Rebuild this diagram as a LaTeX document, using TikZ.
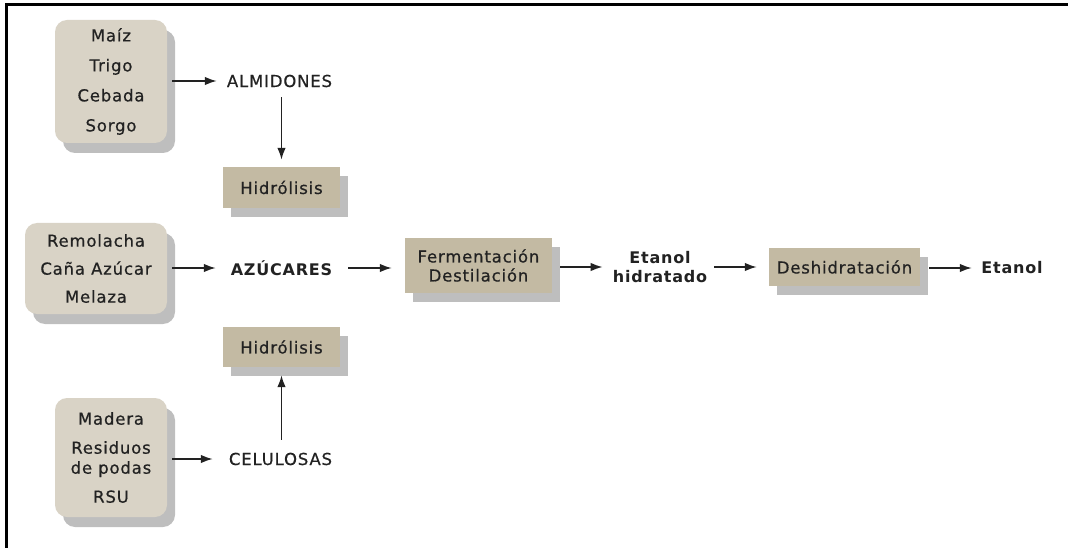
\documentclass[tikz,border=0pt]{standalone}
\usepackage{fontspec}
\setmainfont{DejaVu Sans}[LetterSpace=5,UprightFeatures={FakeBold=0.6}]
\usetikzlibrary{arrows.meta,shadows}
\definecolor{srcfill}{HTML}{D9D3C6}
\definecolor{procfill}{HTML}{C3BAA3}
\definecolor{shade}{HTML}{BEBEBE}
\definecolor{ink}{HTML}{222222}
\begin{document}
\begin{tikzpicture}[x=1pt,y=-1pt,
  every node/.style={text=ink,font=\fontsize{16.5}{20}\selectfont},
  srcbox/.style={draw=none,fill=srcfill,rounded corners=12pt,align=center,
    drop shadow={shadow xshift=8pt,shadow yshift=-10pt,fill=shade,opacity=1}},
  procbox/.style={draw=none,fill=procfill,align=center,
    drop shadow={shadow xshift=8pt,shadow yshift=-9pt,fill=shade,opacity=1}},
  label/.style={inner sep=0pt,align=center},
  boldlabel/.style={label,font=\fontsize{16}{19}\selectfont\bfseries},
  arr/.style={draw=ink,line width=1.6pt,-{Latex[length=12pt,width=8.5pt]}}]
\useasboundingbox (0,0) rectangle (1068,548);
% frame: top and left rules only
\draw[line width=3pt,line cap=rect] (1070,4.5) -- (6.5,4.5) -- (6.5,550);

% raw materials
\node[srcbox,minimum width=112pt,minimum height=123pt] (src1) at (111,81.5)
  {Maíz\\[10pt]Trigo\\[10pt]Cebada\\[10pt]Sorgo};
\node[srcbox,minimum width=142pt,minimum height=91pt] (src2) at (96,268.5)
  {Remolacha\\[8pt]Caña Azúcar\\[8pt]Melaza};
\node[srcbox,minimum width=112pt,minimum height=119pt] (src3) at (111,457.5)
  {Madera\\[9pt]Residuos\\[0pt]de podas\\[9pt]RSU};

% intermediate products
\node[label,minimum width=113pt] (alm) at (279.5,81) {ALMIDONES};
\node[boldlabel,minimum width=103pt] (azu) at (281.5,268) {AZÚCARES};
\node[label,minimum width=105pt] (cel) at (280.5,459) {CELULOSAS};

% processes
\node[procbox,minimum width=117pt,minimum height=41pt] (hyd1) at (281.5,187.5) {Hidrólisis};
\node[procbox,minimum width=117pt,minimum height=40pt] (hyd2) at (281.5,347) {Hidrólisis};
\node[procbox,minimum width=147pt,minimum height=55pt,font=\fontsize{16.5}{19}\selectfont] (ferm) at (478.5,265.5)
  {Fermentación\\Destilación};
\node[procbox,minimum width=151pt,minimum height=38pt] (desh) at (844.5,267) {Deshidratación};

% products
\node[boldlabel,minimum width=94pt] (etah) at (660,267) {Etanol\\hidratado};
\node[boldlabel,minimum width=62pt] (eta) at (1012,268) {Etanol};

% connectors
\draw[arr,shorten <=5pt,shorten >=6pt] (src1.east |- alm.west) -- (alm.west);
\draw[arr,shorten <=10pt,shorten >=7pt] (hyd1.north |- alm.south) -- (hyd1.north);
\draw[arr,shorten <=5pt,shorten >=14pt] (src2.east |- azu.west) -- (azu.west);
\draw[arr,shorten <=15pt,shorten >=13pt] (azu.east) -- (ferm.west |- azu.east);
\draw[arr,shorten <=8pt,shorten >=10pt] (ferm.east |- etah.west) -- (etah.west);
\draw[arr,shorten <=7pt,shorten >=12pt] (etah.east) -- (desh.west |- etah.east);
\draw[arr,shorten <=9pt,shorten >=9pt] (desh.east |- eta.west) -- (eta.west);
\draw[arr,shorten <=5pt,shorten >=15pt] (src3.east |- cel.west) -- (cel.west);
\draw[arr,shorten <=13pt,shorten >=8pt] (hyd2.south |- cel.north) -- (hyd2.south);
\end{tikzpicture}
\end{document}
